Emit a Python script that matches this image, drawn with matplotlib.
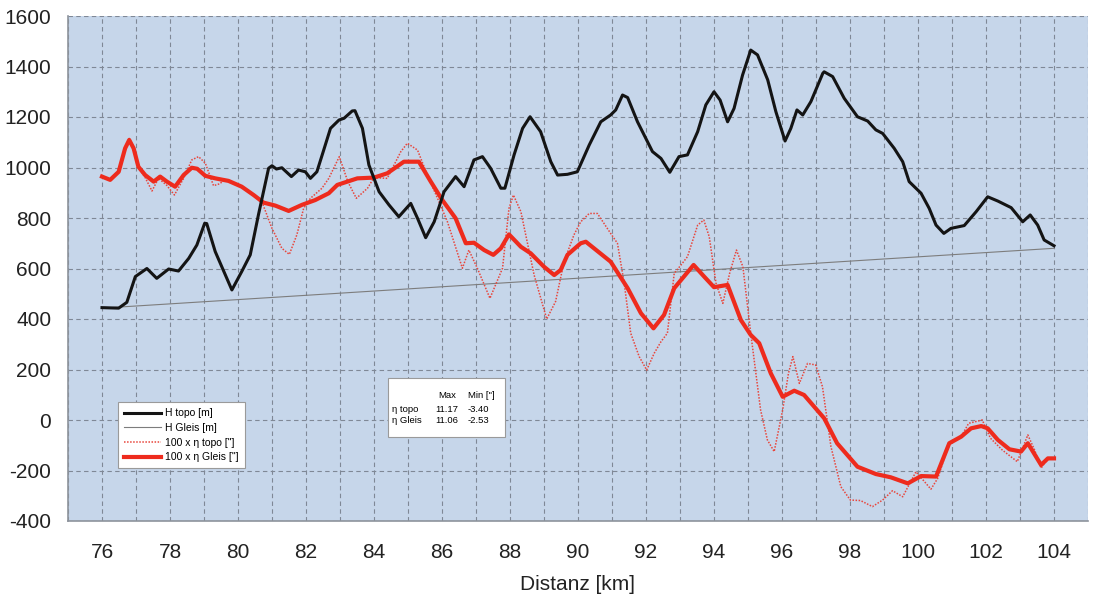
import matplotlib
matplotlib.use("Agg")
import matplotlib.pyplot as plt
from matplotlib.patches import Rectangle

plt.rcParams["font.family"] = ["Liberation Sans", "DejaVu Sans"]
plt.rcParams["axes.unicode_minus"] = False

# H topo [m]
km_topo = [76.0, 76.49, 76.73, 76.98, 77.32, 77.61, 77.96, 78.25, 78.55, 78.79,
           79.02, 79.08, 79.33, 79.82, 80.11, 80.36, 80.6, 80.9, 81.0, 81.13,
           81.29, 81.57, 81.78, 81.98, 82.13, 82.32, 82.5, 82.72, 82.97, 83.12,
           83.36, 83.44, 83.66, 83.85, 84.15, 84.44, 84.73, 85.08, 85.28, 85.52,
           85.77, 86.06, 86.4, 86.65, 86.94, 87.19, 87.43, 87.73, 87.85, 88.12,
           88.37, 88.59, 88.9, 89.2, 89.4, 89.69, 89.98, 90.33, 90.67, 90.96,
           91.11, 91.31, 91.46, 91.75, 92.19, 92.44, 92.7, 92.97, 93.22, 93.52,
           93.76, 94.0, 94.18, 94.4, 94.59, 94.84, 95.08, 95.28, 95.58, 95.82,
           96.09, 96.26, 96.44, 96.61, 96.85, 97.2, 97.24, 97.49, 97.83, 98.22,
           98.52, 98.76, 98.96, 99.3, 99.55, 99.74, 100.09, 100.33, 100.53, 100.76,
           100.97, 101.36, 101.71, 102.05, 102.35, 102.74, 103.08, 103.3, 103.52, 103.71,
           104.0]
h_topo = [445, 443, 466, 568, 600, 561, 598, 590, 640, 693,
          779, 778, 667, 515, 588, 654, 812, 997, 1007, 994,
          999, 964, 990, 983, 957, 983, 1060, 1155, 1188, 1195,
          1224, 1225, 1155, 1010, 904, 852, 805, 858, 799, 722,
          785, 904, 964, 924, 1030, 1043, 997, 918, 918, 1050,
          1155, 1201, 1142, 1023, 970, 973, 983, 1089, 1181, 1208,
          1228, 1287, 1277, 1181, 1063, 1036, 981, 1043, 1050, 1142,
          1248, 1300, 1267, 1181, 1234, 1366, 1465, 1446, 1347, 1221,
          1105, 1155, 1228, 1208, 1261, 1373, 1379, 1360, 1274, 1201,
          1184, 1149, 1135, 1076, 1023, 944, 898, 838, 772, 739,
          759, 770, 825, 884, 867, 841, 785, 812, 772, 713,
          690]

# H Gleis [m]
km_gleis = [76.0, 104.0]
h_gleis = [443, 680]

# 100 x eta Gleis
km_eta_gleis = [76.0, 76.24, 76.49, 76.68, 76.8, 76.93, 77.07, 77.27, 77.52, 77.71,
                77.91, 78.15, 78.4, 78.64, 78.8, 79.04, 79.33, 79.72, 80.11, 80.46,
                80.75, 81.1, 81.49, 81.88, 82.27, 82.67, 82.92, 83.51, 84.0, 84.39,
                84.88, 85.32, 85.67, 86.01, 86.4, 86.7, 86.94, 87.24, 87.51, 87.73,
                87.97, 88.32, 88.61, 89.0, 89.3, 89.49, 89.69, 90.08, 90.23, 90.96,
                91.46, 91.85, 92.22, 92.53, 92.83, 93.4, 93.71, 94.0, 94.4, 94.79,
                95.08, 95.33, 95.67, 96.02, 96.36, 96.65, 97.24, 97.62, 98.22, 98.76,
                99.2, 99.7, 100.09, 100.53, 100.92, 101.27, 101.56, 101.86, 102.05, 102.35,
                102.69, 103.03, 103.23, 103.62, 103.82, 104.0]
eta_gleis = [964, 951, 983, 1076, 1109, 1076, 1003, 970, 944, 964,
             944, 924, 970, 999, 995, 967, 957, 947, 924, 891,
             861, 849, 828, 852, 871, 898, 931, 957, 960, 977,
             1023, 1023, 944, 871, 799, 700, 702, 673, 654, 680,
             735, 686, 660, 607, 574, 594, 654, 700, 706, 627,
             522, 423, 363, 416, 522, 614, 568, 526, 535, 396,
             337, 304, 185, 92, 116, 99, 7, -92, -185, -214,
             -227, -251, -222, -224, -92, -66, -33, -24, -33, -79,
             -116, -125, -92, -178, -152, -152]

# 100 x eta topo
km_eta_topo = [76.0, 76.24, 76.49, 76.68, 76.8, 76.93, 77.07, 77.27, 77.47, 77.66,
               77.9, 78.13, 78.4, 78.64, 78.84, 79.04, 79.28, 79.45, 79.62, 80.0,
               80.3, 80.7, 81.0, 81.29, 81.51, 81.73, 81.93, 82.13, 82.47, 82.67,
               82.98, 83.23, 83.48, 83.81, 84.0, 84.39, 84.79, 84.98, 85.28, 85.57,
               85.91, 86.16, 86.6, 86.79, 87.04, 87.41, 87.78, 87.97, 88.1, 88.32,
               88.71, 89.08, 89.34, 89.59, 89.88, 90.08, 90.33, 90.57, 90.96, 91.16,
               91.36, 91.55, 91.8, 92.02, 92.24, 92.44, 92.63, 92.83, 93.03, 93.22,
               93.52, 93.7, 93.86, 94.06, 94.26, 94.46, 94.66, 94.85, 95.08, 95.37,
               95.57, 95.77, 96.02, 96.19, 96.32, 96.51, 96.75, 96.99, 97.19, 97.44,
               97.73, 98.01, 98.31, 98.66, 98.96, 99.25, 99.55, 99.94, 100.19, 100.38,
               100.58, 100.92, 101.27, 101.49, 101.89, 102.13, 102.48, 102.92, 103.23, 103.43,
               103.62, 103.82, 104.0]
eta_topo = [964, 951, 983, 1076, 1115, 1080, 1000, 960, 907, 957,
            930, 891, 957, 1030, 1043, 1017, 928, 935, 951, 935,
            910, 865, 759, 680, 656, 733, 838, 878, 918, 957,
            1043, 944, 878, 918, 960, 957, 1063, 1096, 1069, 970,
            865, 785, 601, 673, 601, 482, 601, 838, 891, 825,
            574, 400, 469, 627, 733, 785, 818, 818, 739, 700,
            541, 344, 251, 198, 264, 310, 344, 581, 614, 647,
            772, 792, 726, 541, 462, 581, 673, 607, 344, 40,
            -79, -125, 40, 185, 251, 145, 224, 218, 132, -106,
            -264, -317, -319, -343, -317, -280, -304, -205, -244, -274,
            -231, -92, -66, -13, 0, -72, -119, -165, -59, -119,
            -191, -152, -152]

x_ticks = list(range(76, 105, 2))
y_ticks = list(range(-400, 1601, 200))

stats_rows = ["\u03b7 topo", "\u03b7 Gleis"]
stats_max = ["11.17", "11.06"]
stats_min = ["-3.40", "-2.53"]

W, H = 1094, 596
fig = plt.figure(figsize=(W / 100, H / 100), dpi=100)
ax = fig.add_axes([68 / W, 1 - 521 / H, 1020 / W, 505 / H])
ax.set_facecolor("#c6d6ea")

red = "#ee2b1d"
ax.plot(km_gleis, h_gleis, color="#7d7d7d", lw=0.8, label="H Gleis [m]", zorder=3)
ax.plot(km_eta_topo, eta_topo, color="#e8463c", lw=1.1, ls=(0, (1, 1)),
        label="100 x \u03b7 topo [\"]", zorder=4)
ax.plot(km_eta_gleis, eta_gleis, color=red, lw=3.0, label="100 x \u03b7 Gleis [\"]",
        zorder=5, solid_joinstyle="round")
ax.plot(km_topo, h_topo, color="#141414", lw=2.2, label="H topo [m]", zorder=6,
        solid_joinstyle="round")

ax.set_xlim(75, 105)
ax.set_ylim(-400, 1600)
ax.set_xticks(x_ticks)
ax.set_xticks(range(75, 106), minor=True)
ax.set_yticks(y_ticks)
ax.tick_params(axis="both", length=0, labelsize=15, colors="#222222")
ax.tick_params(axis="x", which="both", length=0, pad=16)
ax.tick_params(axis="y", pad=12)
ax.grid(True, which="both", axis="x", color="#7f8896", ls=(0, (4, 3)), lw=0.8)
ax.grid(True, which="major", axis="y", color="#7f8896", ls=(0, (4, 3)), lw=0.8)
ax.set_axisbelow(True)
for side in ("top", "right"):
    ax.spines[side].set_visible(False)
for side in ("left", "bottom"):
    ax.spines[side].set_color("#8d939c")
    ax.spines[side].set_linewidth(1.2)

ax.set_xlabel("Distanz [km]", fontsize=15, color="#222222", labelpad=9)

handles, labels = ax.get_legend_handles_labels()
order = [3, 0, 1, 2]
leg = ax.legend([handles[i] for i in order], [labels[i] for i in order],
                loc="lower left", bbox_to_anchor=(50 / 1020, 53 / 505),
                borderaxespad=0, fontsize=7.5, frameon=True, fancybox=False,
                handlelength=3.6, handletextpad=0.4, labelspacing=0.45,
                borderpad=0.55)
leg.get_frame().set_edgecolor("#9a9a9a")
leg.get_frame().set_linewidth(0.8)
leg.get_frame().set_facecolor("white")
leg.get_frame().set_alpha(1)

# statistics box
fig.patches.append(Rectangle((388 / W, 1 - 437 / H), 117 / W, 59 / H,
                             transform=fig.transFigure, facecolor="white",
                             edgecolor="#9a9a9a", lw=0.8, zorder=10))
fs = 6.8
fig.text(438 / W, 1 - 396 / H, "Max", fontsize=fs, va="center", zorder=11)
fig.text(468 / W, 1 - 396 / H, "Min [\"]", fontsize=fs, va="center", zorder=11)
for i, (name, mx, mn) in enumerate(zip(stats_rows, stats_max, stats_min)):
    y = 1 - (410 + 10.5 * i) / H
    fig.text(392 / W, y, name, fontsize=fs, va="center", zorder=11)
    fig.text(435 / W, y, mx, fontsize=fs, va="center", zorder=11)
    fig.text(468 / W, y, mn, fontsize=fs, va="center", zorder=11)

fig.savefig("out.png", dpi=100)
